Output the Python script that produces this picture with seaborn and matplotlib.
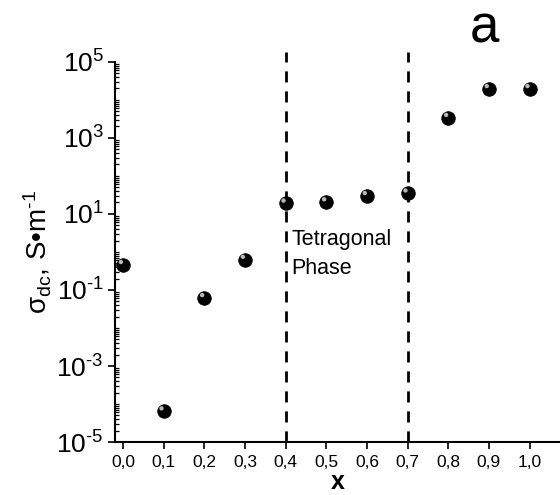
import numpy as np
import pandas as pd
import matplotlib
matplotlib.use("Agg")
import matplotlib.pyplot as plt
import matplotlib.transforms as mtransforms
from matplotlib.ticker import FixedLocator, FuncFormatter, LogLocator, NullFormatter
import seaborn as sns

# Composition x and dc conductivity (S/m)
x_values = [0.0, 0.1, 0.2, 0.3, 0.4, 0.5, 0.6, 0.7, 0.8, 0.9, 1.0]
sigma_dc = [0.46, 6.5e-5, 0.062, 0.63, 19.0, 20.5, 30.0, 35.0, 3400.0, 19500.0, 19500.0]
phase_bounds = [0.4, 0.7]
x_ticks = [0.0, 0.1, 0.2, 0.3, 0.4, 0.5, 0.6, 0.7, 0.8, 0.9, 1.0]
y_exponents = [-5, -3, -1, 1, 3, 5]

sns.set_theme(style="ticks")
plt.rcParams["font.family"] = ["Liberation Sans", "DejaVu Sans"]
plt.rcParams["mathtext.fontset"] = "custom"
plt.rcParams["mathtext.rm"] = "Liberation Sans"
plt.rcParams["mathtext.default"] = "regular"
plt.rcParams["axes.unicode_minus"] = False
plt.rcParams["text.color"] = "black"
plt.rcParams["axes.labelcolor"] = "black"
plt.rcParams["xtick.color"] = "black"
plt.rcParams["ytick.color"] = "black"

HYPHEN = "\u2010"


def decade_label(v, pos):
    e = int(round(np.log10(v)))
    exp = str(e).replace("-", HYPHEN)
    return r"$10^{%s}$" % exp


df = pd.DataFrame({"x": x_values, "sigma": sigma_dc})

fig = plt.figure(figsize=(5.6, 4.95), dpi=100)
ax = fig.add_axes([0.205, 0.107, 0.795, 0.768])

sns.scatterplot(data=df, x="x", y="sigma", ax=ax, s=95, color="black",
                edgecolor="black", linewidth=0.6, zorder=5, clip_on=False)
# small glossy highlight on each sphere
shine = ax.transData + mtransforms.ScaledTranslation(-1.5 / 72, 2.0 / 72, fig.dpi_scale_trans)
ax.scatter(df["x"], df["sigma"], s=10, color="#b8b8b8", edgecolor="none",
           transform=shine, zorder=6, clip_on=False)

for xb in phase_bounds:
    ax.axvline(xb, ymin=0, ymax=1.027, color="black", lw=2.0,
               ls=(0, (4, 3.2)), clip_on=False, zorder=3)

ax.set_yscale("log")
ax.set_ylim(1e-5, 1e5)
ax.set_xlim(-0.02, 1.075)

ax.yaxis.set_major_locator(FixedLocator([10.0 ** e for e in y_exponents]))
ax.yaxis.set_major_formatter(FuncFormatter(decade_label))
ax.yaxis.set_minor_locator(LogLocator(base=10, subs=np.arange(1, 10), numticks=30))
ax.yaxis.set_minor_formatter(NullFormatter())

ax.set_xticks(x_ticks)
ax.set_xticklabels([f"{t:.1f}".replace(".", ",") for t in x_ticks])

ax.tick_params(axis="y", which="major", direction="out", length=5, width=1.2,
               labelsize=19, pad=3)
ax.tick_params(axis="y", which="minor", direction="in", length=3, width=0.9)
ax.tick_params(axis="x", which="major", direction="out", length=5, width=1.2,
               labelsize=12.5, pad=4)

for side in ("top", "right"):
    ax.spines[side].set_visible(False)
for side in ("left", "bottom"):
    ax.spines[side].set_linewidth(1.5)
    ax.spines[side].set_color("black")

ax.set_xlabel("x", fontsize=18, fontweight="bold", labelpad=0)
ax.set_ylabel("σ$_{dc}$, S•m$^{%s1}$" % HYPHEN, fontsize=20, labelpad=2)

ax.text(0.415, 3.9, "Tetragonal\nPhase", fontsize=15.5, va="top", ha="left",
        linespacing=1.45)
fig.text(0.865, 0.915, "a", fontsize=38, ha="center", va="baseline")

fig.savefig("out.png", dpi=100)
